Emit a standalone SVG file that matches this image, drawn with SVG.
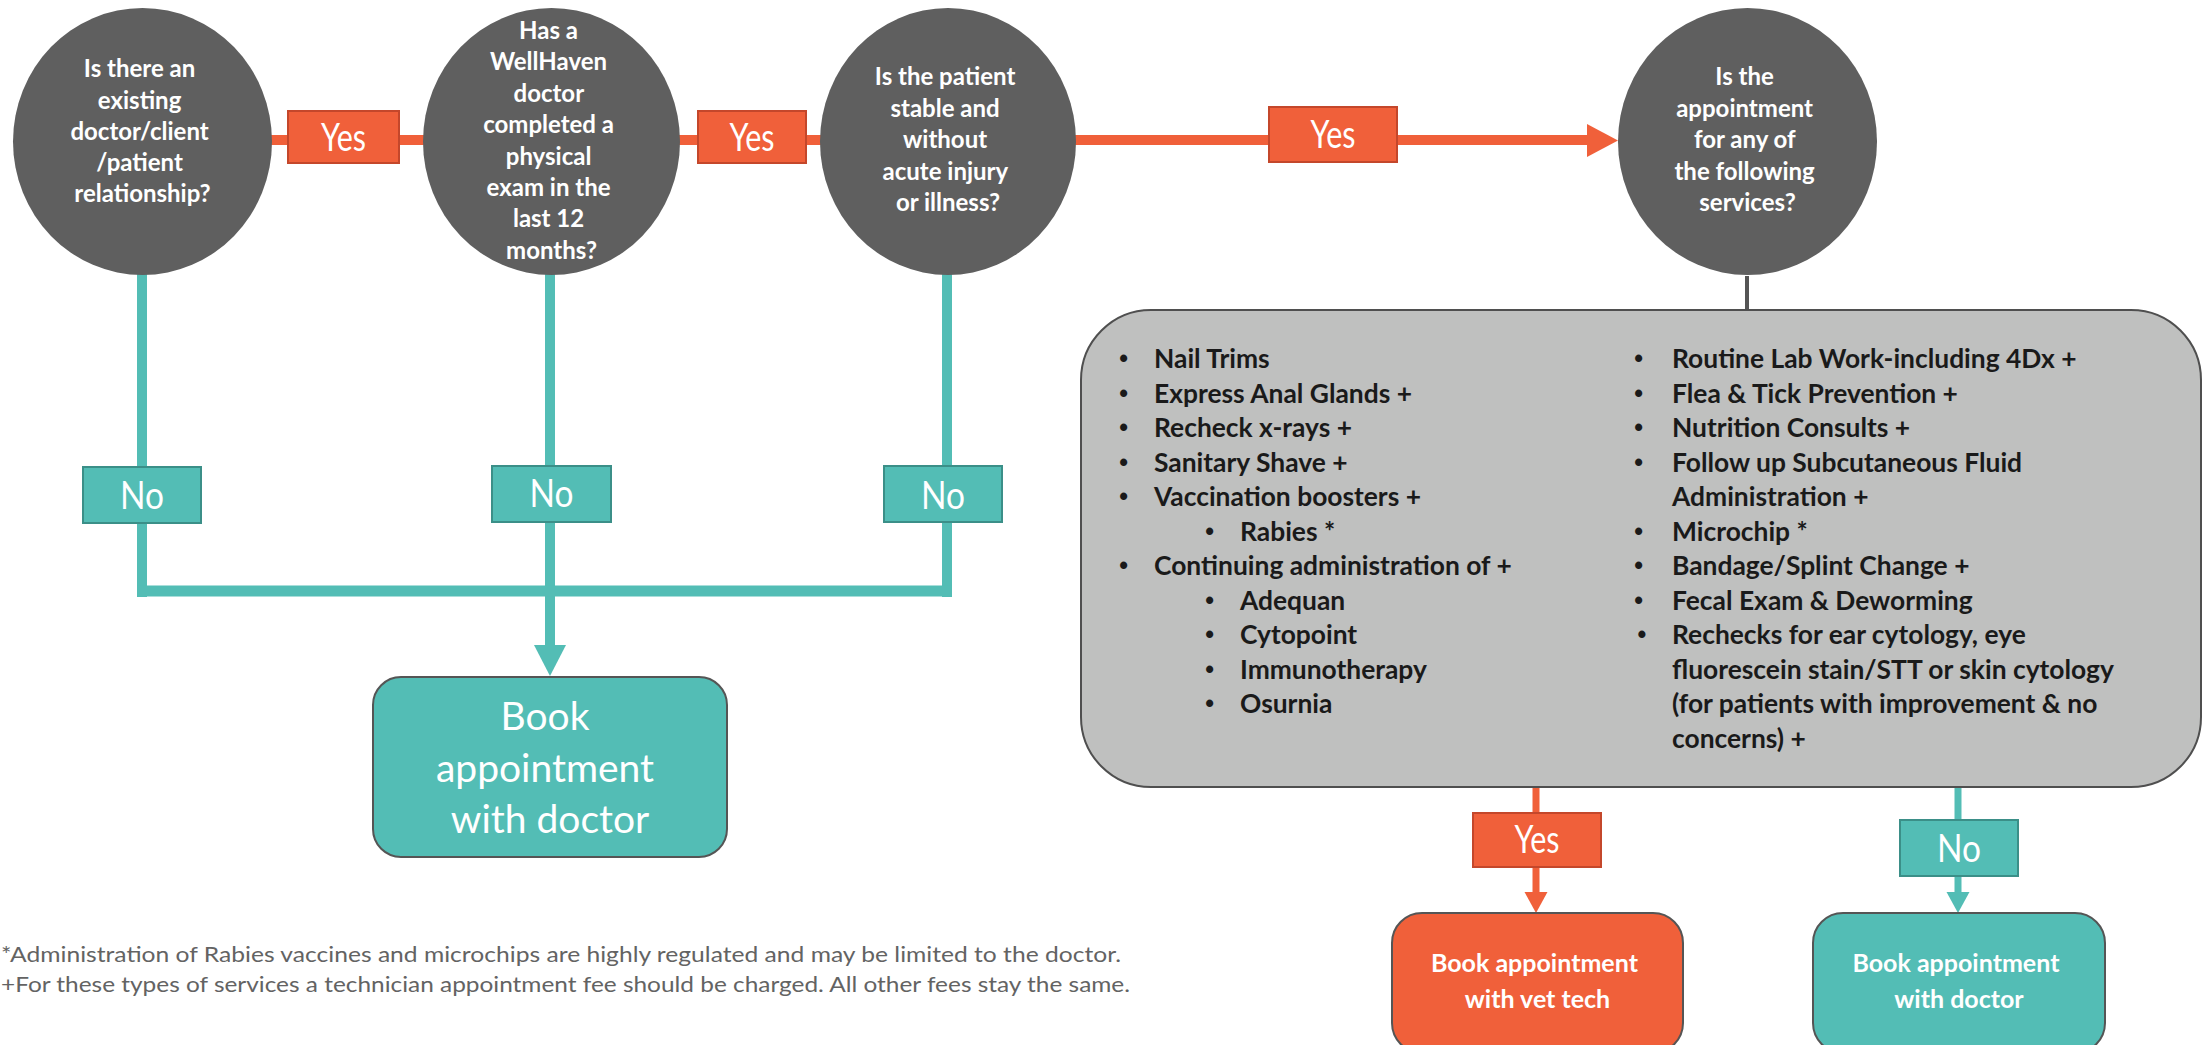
<svg xmlns="http://www.w3.org/2000/svg" width="2210" height="1045" viewBox="0 0 2210 1045">
<style>
.q{fill:#5F5F5F}
.qt{font-family:Lato,"Liberation Sans",sans-serif;font-weight:700;font-size:24px;fill:#ffffff;text-anchor:middle}
.yes{fill:#F0603A;stroke:#C4472B;stroke-width:2}
.no{fill:#53BDB5;stroke:#3B8F88;stroke-width:2}
.lbl{font-family:Lato,"Liberation Sans",sans-serif;font-size:38px;fill:#ffffff;text-anchor:middle}
.or{stroke:#F0603A;fill:none}
.tl{stroke:#53BDB5;fill:none}
.orf{fill:#F0603A}
.tlf{fill:#53BDB5}
.list{font-family:Lato,"Liberation Sans",sans-serif;font-weight:700;font-size:26.4px;fill:#1a1a1a}
.bul{font-family:"Liberation Sans",sans-serif;font-weight:700;font-size:25px;fill:#1a1a1a;text-anchor:middle}
.bt{font-family:Lato,"Liberation Sans",sans-serif;font-weight:700;font-size:25px;fill:#ffffff;text-anchor:middle}
.big{font-family:Lato,"Liberation Sans",sans-serif;font-size:39px;fill:#ffffff;text-anchor:middle}
.foot{font-family:Lato,"Liberation Sans",sans-serif;font-size:22px;fill:#636363}
</style>

<g id="connectors">
  <line class="or" x1="268" y1="140" x2="426" y2="140" stroke-width="10"/>
  <line class="or" x1="678" y1="140" x2="823" y2="140" stroke-width="10"/>
  <line class="or" x1="1074" y1="140" x2="1590" y2="140" stroke-width="10"/>
  <polygon class="orf" points="1587,124 1618,140.5 1587,157"/>
  <line class="tl" x1="142" y1="272" x2="142" y2="597" stroke-width="10"/>
  <line class="tl" x1="550" y1="272" x2="550" y2="648" stroke-width="10"/>
  <line class="tl" x1="947" y1="272" x2="947" y2="597" stroke-width="10"/>
  <line class="tl" x1="137" y1="591" x2="952" y2="591" stroke-width="11"/>
  <polygon class="tlf" points="534,645 566,645 550,676"/>
  <line x1="1747" y1="276" x2="1747" y2="309" stroke="#555555" stroke-width="4"/>
  <line class="or" x1="1536" y1="787" x2="1536" y2="895" stroke-width="7"/>
  <polygon class="orf" points="1524.5,892 1547.5,892 1536,913"/>
  <line class="tl" x1="1958" y1="787" x2="1958" y2="895" stroke-width="7"/>
  <polygon class="tlf" points="1946.5,892 1969.5,892 1958,913"/>
  <g id="labels">
    <rect class="yes" x="288" y="111" width="111" height="52"/>
    <text class="lbl" x="343.5" y="151" textLength="45" lengthAdjust="spacingAndGlyphs">Yes</text>
    <rect class="yes" x="698" y="111" width="108" height="52"/>
    <text class="lbl" x="752" y="151" textLength="45" lengthAdjust="spacingAndGlyphs">Yes</text>
    <rect class="yes" x="1269" y="107" width="128" height="55"/>
    <text class="lbl" x="1333" y="148" textLength="45" lengthAdjust="spacingAndGlyphs">Yes</text>
    <rect class="no" x="83" y="467" width="118" height="56"/>
    <text class="lbl" x="142" y="509" textLength="44" lengthAdjust="spacingAndGlyphs">No</text>
    <rect class="no" x="492" y="466" width="119" height="56"/>
    <text class="lbl" x="551.5" y="507" textLength="44" lengthAdjust="spacingAndGlyphs">No</text>
    <rect class="no" x="884" y="466" width="118" height="56"/>
    <text class="lbl" x="943" y="509" textLength="44" lengthAdjust="spacingAndGlyphs">No</text>
    <rect class="yes" x="1473" y="813" width="128" height="54"/>
    <text class="lbl" x="1537" y="853" textLength="45" lengthAdjust="spacingAndGlyphs">Yes</text>
    <rect class="no" x="1900" y="820" width="118" height="56"/>
    <text class="lbl" x="1959" y="862" textLength="44" lengthAdjust="spacingAndGlyphs">No</text>
  </g>
</g>

<g id="q1">
  <ellipse class="q" cx="142.5" cy="141.5" rx="129.5" ry="133.5"/>
  <text class="qt">
    <tspan x="142.5" y="77">Is there an</tspan>
    <tspan x="142.5" y="108.5">existing</tspan>
    <tspan x="142.5" y="140">doctor/client</tspan>
    <tspan x="142.5" y="171">/patient</tspan>
    <tspan x="142.5" y="202">relationship?</tspan>
  </text>
</g>

<g id="q2">
  <ellipse class="q" cx="551.5" cy="141.5" rx="128.5" ry="133.5"/>
  <text class="qt">
    <tspan x="551.5" y="39">Has a</tspan>
    <tspan x="551.5" y="70.4">WellHaven</tspan>
    <tspan x="551.5" y="101.8">doctor</tspan>
    <tspan x="551.5" y="133.2">completed a</tspan>
    <tspan x="551.5" y="164.6">physical</tspan>
    <tspan x="551.5" y="196">exam in the</tspan>
    <tspan x="551.5" y="227.4">last 12</tspan>
    <tspan x="551.5" y="258.8">months?</tspan>
  </text>
</g>

<g id="q3">
  <ellipse class="q" cx="948" cy="141.5" rx="128" ry="133.5"/>
  <text class="qt">
    <tspan x="948" y="85">Is the patient</tspan>
    <tspan x="948" y="116.5">stable and</tspan>
    <tspan x="948" y="148">without</tspan>
    <tspan x="948" y="179.5">acute injury</tspan>
    <tspan x="948" y="211">or illness?</tspan>
  </text>
</g>

<g id="q4">
  <ellipse class="q" cx="1747.5" cy="141.5" rx="129.5" ry="133.5"/>
  <text class="qt">
    <tspan x="1747.5" y="85">Is the</tspan>
    <tspan x="1747.5" y="116.5">appointment</tspan>
    <tspan x="1747.5" y="148">for any of</tspan>
    <tspan x="1747.5" y="179.5">the following</tspan>
    <tspan x="1747.5" y="211">services?</tspan>
  </text>
</g>

<g id="services">
  <rect x="1081" y="310" width="1120" height="477" rx="70" ry="70" fill="#BFC0BF" stroke="#4F4F4F" stroke-width="2"/>
  <text class="bul">
    <tspan x="1127" y="367">•</tspan>
    <tspan x="1127" y="401.5">•</tspan>
    <tspan x="1127" y="436">•</tspan>
    <tspan x="1127" y="470.5">•</tspan>
    <tspan x="1127" y="505">•</tspan>
    <tspan x="1213" y="539.5">•</tspan>
    <tspan x="1127" y="574">•</tspan>
    <tspan x="1213" y="608.5">•</tspan>
    <tspan x="1213" y="643">•</tspan>
    <tspan x="1213" y="677.5">•</tspan>
    <tspan x="1213" y="712">•</tspan>
    <tspan x="1642" y="367">•</tspan>
    <tspan x="1642" y="401.5">•</tspan>
    <tspan x="1642" y="436">•</tspan>
    <tspan x="1642" y="470.5">•</tspan>
    <tspan x="1642" y="539.5">•</tspan>
    <tspan x="1642" y="574">•</tspan>
    <tspan x="1642" y="608.5">•</tspan>
    <tspan x="1642" y="643">•</tspan>
  </text>
  <text class="list">
    <tspan x="1154" y="368">Nail Trims</tspan>
    <tspan x="1154" y="402.5">Express Anal Glands +</tspan>
    <tspan x="1154" y="437">Recheck x-rays +</tspan>
    <tspan x="1154" y="471.5">Sanitary Shave +</tspan>
    <tspan x="1154" y="506">Vaccination boosters +</tspan>
    <tspan x="1240" y="540.5">Rabies *</tspan>
    <tspan x="1154" y="575">Continuing administration of +</tspan>
    <tspan x="1240" y="609.5">Adequan</tspan>
    <tspan x="1240" y="644">Cytopoint</tspan>
    <tspan x="1240" y="678.5">Immunotherapy</tspan>
    <tspan x="1240" y="713">Osurnia</tspan>
  </text>
  <text class="list">
    <tspan x="1672" y="368">Routine Lab Work-including 4Dx +</tspan>
    <tspan x="1672" y="402.5">Flea &amp; Tick Prevention +</tspan>
    <tspan x="1672" y="437">Nutrition Consults +</tspan>
    <tspan x="1672" y="471.5">Follow up Subcutaneous Fluid</tspan>
    <tspan x="1672" y="506">Administration +</tspan>
    <tspan x="1672" y="540.5">Microchip *</tspan>
    <tspan x="1672" y="575">Bandage/Splint Change +</tspan>
    <tspan x="1672" y="609.5">Fecal Exam &amp; Deworming</tspan>
    <tspan x="1672" y="644">Rechecks for ear cytology, eye</tspan>
    <tspan x="1672" y="678.5">fluorescein stain/STT or skin cytology</tspan>
    <tspan x="1672" y="713">(for patients with improvement &amp; no</tspan>
    <tspan x="1672" y="747.5">concerns) +</tspan>
  </text>
</g>

<g id="book-doctor-main">
  <rect x="373" y="677" width="354" height="180" rx="28" ry="28" fill="#53BDB5" stroke="#555555" stroke-width="2"/>
  <text class="big">
    <tspan x="550" y="730">Book</tspan>
    <tspan x="550" y="782">appointment</tspan>
    <tspan x="550" y="833">with doctor</tspan>
  </text>
</g>

<g id="book-vet-tech">
  <rect x="1392" y="913" width="291" height="140" rx="30" ry="30" fill="#F0603A" stroke="#555555" stroke-width="2"/>
  <text class="bt">
    <tspan x="1537.5" y="972">Book appointment</tspan>
    <tspan x="1537.5" y="1008">with vet tech</tspan>
  </text>
</g>

<g id="book-doctor">
  <rect x="1813" y="913" width="292" height="140" rx="30" ry="30" fill="#53BDB5" stroke="#555555" stroke-width="2"/>
  <text class="bt">
    <tspan x="1959" y="972">Book appointment</tspan>
    <tspan x="1959" y="1008">with doctor</tspan>
  </text>
</g>

<g id="footnotes">
  <text class="foot" x="1" y="962" textLength="1120" lengthAdjust="spacingAndGlyphs">*Administration of Rabies vaccines and microchips are highly regulated and may be limited to the doctor.</text>
  <text class="foot" x="1" y="992" textLength="1129" lengthAdjust="spacingAndGlyphs">+For these types of services a technician appointment fee should be charged. All other fees stay the same.</text>
</g>
</svg>
